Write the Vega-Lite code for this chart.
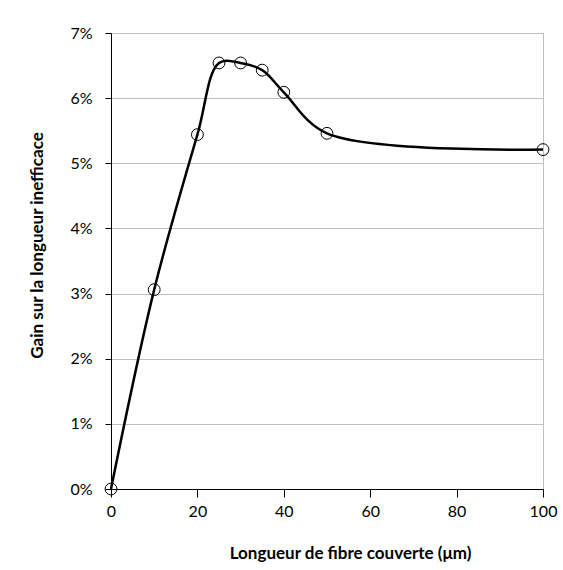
{
  "$schema": "https://vega.github.io/schema/vega-lite/v6.json",
  "autosize": "none",
  "width": 432,
  "height": 456,
  "padding": {"left": 111, "top": 33, "right": 20, "bottom": 81},
  "background": "white",
  "config": {
    "font": "Lato",
    "view": {"stroke": "#bfbfbf", "strokeWidth": 1},
    "axis": {
      "labelFont": "Lato",
      "labelFontSize": 16,
      "labelColor": "#000000",
      "labelFlush": false,
      "titleFont": "Lato",
      "titleFontSize": 17,
      "titleFontWeight": "bold",
      "titleColor": "#000000",
      "domainColor": "#000000",
      "tickColor": "#000000",
      "gridColor": "#bfbfbf",
      "gridWidth": 1
    }
  },
  "data": {
    "values": [
      {"length": 0, "gain": 0.0},
      {"length": 10, "gain": 0.0306},
      {"length": 20, "gain": 0.0544},
      {"length": 25, "gain": 0.0654},
      {"length": 30, "gain": 0.0654},
      {"length": 35, "gain": 0.0643},
      {"length": 40, "gain": 0.0609},
      {"length": 50, "gain": 0.0546},
      {"length": 100, "gain": 0.0521}
    ]
  },
  "encoding": {
    "x": {
      "field": "length",
      "type": "quantitative",
      "scale": {"domain": [0, 100], "nice": false, "zero": false},
      "axis": {
        "values": [0, 20, 40, 60, 80, 100],
        "grid": false,
        "tickSize": 8,
        "labelPadding": 6,
        "labelFlush": false,
        "title": "Longueur de fibre couverte (μm)",
        "titleX": 239,
        "titleY": 64,
        "titleAlign": "center",
        "titleBaseline": "middle"
      }
    },
    "y": {
      "field": "gain",
      "type": "quantitative",
      "scale": {"domain": [0, 0.07], "nice": false},
      "axis": {
        "values": [0, 0.01, 0.02, 0.03, 0.04, 0.05, 0.06, 0.07],
        "format": ".0%",
        "grid": true,
        "tickSize": 6,
        "labelPadding": 13,
        "labelFlush": false,
        "title": "Gain sur la longueur inefficace",
        "titleX": -74,
        "titleY": 212,
        "titleAlign": "center",
        "titleBaseline": "middle"
      }
    }
  },
  "layer": [
    {
      "mark": {"type": "line", "interpolate": "catmull-rom", "color": "#000000", "strokeWidth": 2.5}
    },
    {
      "mark": {"type": "point", "shape": "circle", "filled": false, "size": 140, "color": "#000000", "strokeWidth": 1, "opacity": 1}
    }
  ]
}
